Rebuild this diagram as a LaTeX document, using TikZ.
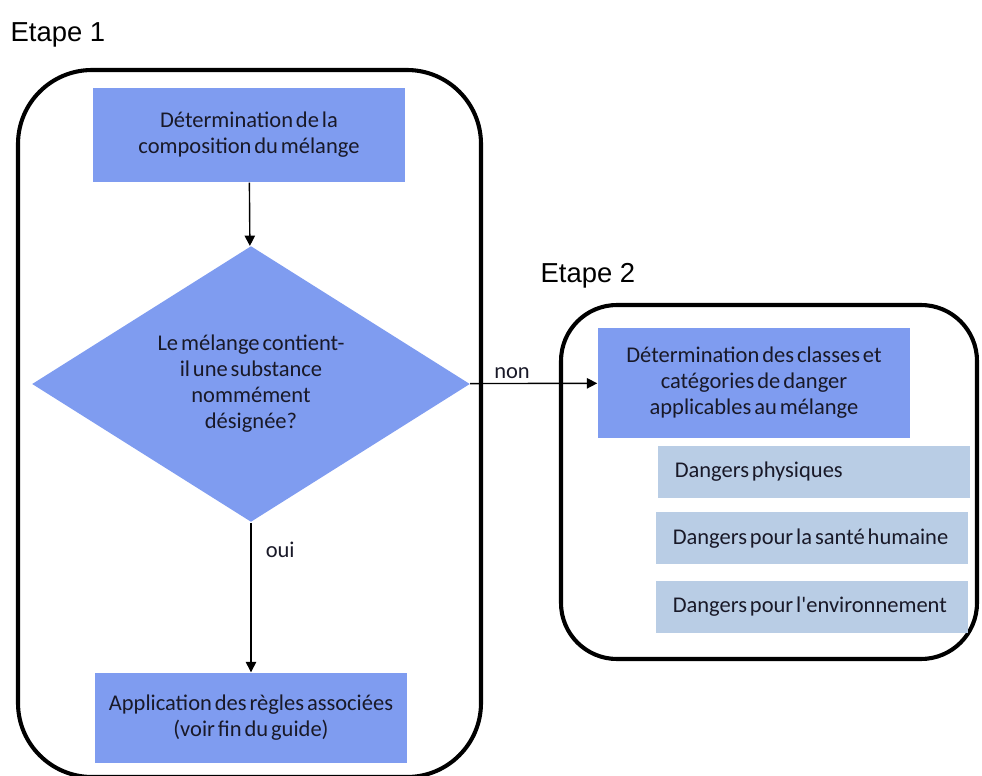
\documentclass[tikz,border=0pt]{standalone}
\usepackage{fontspec}
\setmainfont{Carlito}
\newfontfamily\etapefont{Liberation Sans}
\usepackage{tikz}
\usetikzlibrary{positioning,shapes.geometric,arrows.meta}
\definecolor{stepblue}{RGB}{127,156,240}
\definecolor{paleblue}{RGB}{185,205,229}
\definecolor{inkdark}{RGB}{25,25,40}
\newcommand{\boxfont}{\fontsize{16}{18.5}\selectfont\spaceskip=0.13em plus 0.05em\relax}
\tikzstyle{proc}=[%
      rectangle, draw=none, fill=stepblue, text=inkdark,
      minimum width=7.8cm, minimum height=2.35cm, inner sep=4pt, align=center,
      font=\boxfont
]
\tikzstyle{quest}=[%
      diamond, draw=none, fill=stepblue, text=inkdark, inner sep=-4pt,
      minimum width=10.95cm, minimum height=6.9cm, align=center,
      font=\boxfont
]
\tikzstyle{cat}=[%
      rectangle, draw=none, fill=paleblue, text=inkdark,
      minimum width=7.8cm, minimum height=1.3cm, inner xsep=0.42cm, inner ysep=0pt,
      text width=6.96cm, align=left, font=\boxfont,
      execute at begin node={\spaceskip=0.13em plus 0.05em\relax}
]
\tikzstyle{frame}=[%
      draw=black, line width=2.9pt, fill=none
]
\tikzstyle{etape}=[%
      font=\etapefont\fontsize{19.5}{22}\selectfont, inner sep=0pt
]
\tikzstyle{lbl}=[%
      font=\boxfont, text=inkdark, inner sep=0pt
]

\begin{document}
\begin{tikzpicture}[x=0.025cm, y=-0.025cm,
    -{Triangle[length=2.6mm,width=2.6mm]}, line width=1pt
  ]
    \useasboundingbox (0,0) rectangle (982,776);

    % Etape 1
    \node[etape, anchor=base west] (e1) at (10,42) {Etape 1};
    \draw[frame, -, rounded corners=1.85cm] (18,70) rectangle (481,777);

    \node[proc]  (compo)   at (249,135) {D\'etermination de la\\composition du m\'elange};
    \node[quest] (melange) at (251,384) {Le m\'elange contient-\\il une substance\\nomm\'ement\\d\'esign\'ee?};
    \node[proc, minimum height=2.25cm] (regles) at (251,718) {Application des r\`egles associ\'ees\\(voir fin du guide)};

    % Etape 2
    \node[etape, anchor=base west] (e2) at (540,282) {Etape 2};
    \draw[frame, -, rounded corners=1.4cm] (561,305) rectangle (977,659);

    \node[proc, minimum height=2.75cm] (classes) at (754,383) {D\'etermination des classes et\\cat\'egories de danger\\applicables au m\'elange};
    \node[cat] (phys)  at (814,472) {Dangers physiques};
    \node[cat] (sante) [below = 0.32cm of phys.south east, anchor=north east, xshift=-0.05cm] {Dangers pour la sant\'e humaine};
    \node[cat] (env)   [below = 0.38cm of sante] {Dangers pour l\textquotesingle environnement};

    \path (compo) edge (melange)
          (melange) edge node[lbl, right, pos=0.18, xshift=10pt] {oui} (regles)
          (melange) edge node[lbl, above, pos=0.33, yshift=3pt] {non} (classes)
    ;

  \end{tikzpicture}
\end{document}
